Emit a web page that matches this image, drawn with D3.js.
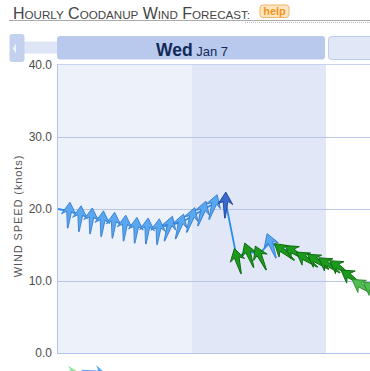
<!DOCTYPE html>
<html><head><meta charset="utf-8">
<script src="https://cdn.jsdelivr.net/npm/d3@7"></script>
<style>
body{margin:0;background:#fff}
svg{display:block}
text{font-family:"Liberation Sans",Arial,Helvetica,sans-serif}
</style>
</head><body><svg id="c" width="370" height="371"></svg>
<script>
// ---- data ----
const hours      = [1,2,3,4,5,6,7,8,9,10,11,12,13,14,15,16,17,18,19,20,21,22,23,24,25,26,27,28];
const speeds     = [19.7,19.2,18.9,18.5,18.3,17.9,17.6,17.5,17.4,17.8,18.1,19.0,19.9,20.8,21.1,13.3,14.1,13.7,15.4,14.4,14.2,13.3,13.0,12.5,12.1,10.8,9.5,9.1];
const directions = [5,5,5,5,5,5,5,5,5,18,18,18,18,18,2,345,340,335,340,310,305,305,305,305,305,305,305,305];
const prevHour = 0, prevSpeed = 20.0;           // last point of the previous page (line only)
const yTicks = [0,10,20,30,40];
const gridTicks = [10,20,30];
const periods = [[0,12],[12,24]];
const titleText = "Hourly Coodanup Wind Forecast:";
const yTitle = "WIND SPEED (knots)";
const dayLabel = "Wed", dateLabel = "Jan 7";
const legendDirs = [90,100];

// ---- setup ----
const svg = d3.select("#c");
const x = d3.scaleLinear().domain([0,24]).range([58,326]);
const y = d3.scaleLinear().domain([0,40]).range([353,65]);
const color = d3.scaleThreshold().domain([10,15,21]).range(["#52bd52","#1c9a1c","#5aa8f0","#3a68cc"]);
const strokeC = d3.scaleThreshold().domain([10,15,21]).range(["#2f8f2f","#0f6a0f","#3a7fd0","#22449a"]);
const arrowPath = "M0,-9 L7.4,3.2 L2.4,0.2 L0.3,17 L-0.3,17 L-2.4,0.2 L-7.4,3.2 Z";

// ---- title ----
const t = svg.append("text").attr("x",13).attr("y",19).attr("fill","#444");
titleText.split(" ").forEach((w,i)=>{
  if(i>0) t.append("tspan").attr("font-size",16).text(" ");
  t.append("tspan").attr("font-size",16).text(w[0].toUpperCase());
  t.append("tspan").attr("font-size",11.6).text(w.slice(1).toUpperCase());
});
svg.append("rect").attr("x",260).attr("y",5).attr("width",29).attr("height",12.5).attr("rx",3)
  .attr("fill","#fde6c2").attr("stroke","#f2b466").attr("stroke-width",1);
svg.append("text").attr("x",274.5).attr("y",15).attr("text-anchor","middle").attr("font-size",11)
  .attr("font-weight","bold").attr("fill","#f39420").text("help");
svg.append("line").attr("x1",9).attr("x2",370).attr("y1",20.5).attr("y2",20.5).attr("stroke","#aaa");
svg.append("line").attr("x1",245).attr("x2",370).attr("y1",22.5).attr("y2",22.5).attr("stroke","#bbb").attr("stroke-dasharray","1,1");

// ---- nav / header ----
svg.append("rect").attr("x",24).attr("y",41.5).attr("width",34).attr("height",12).attr("fill","#dde5f6");
svg.append("rect").attr("x",9.5).attr("y",34).attr("width",15).attr("height",28).attr("rx",3).attr("fill","#c3d1ee");
svg.append("path").attr("d","M12.6,48.5 L16,43.5 L16,53.5 Z").attr("fill","#eef2fb");
svg.append("rect").attr("x",57).attr("y",36).attr("width",268).attr("height",23.5).attr("rx",3).attr("fill","#b9c9ed");
svg.append("rect").attr("x",328.5).attr("y",36.5).attr("width",50).attr("height",23).attr("rx",3)
  .attr("fill","#e0e7f7").attr("stroke","#bccbee");
const h = svg.append("text").attr("x",x(12)).attr("y",56).attr("text-anchor","middle").attr("fill","#12295a");
h.append("tspan").attr("font-size",17.5).attr("font-weight","bold").text(dayLabel);
h.append("tspan").attr("font-size",13).text(" "+dateLabel);

// ---- plot background ----
svg.selectAll("rect.band").data(periods).join("rect").attr("class","band")
  .attr("x",d=>x(d[0])).attr("width",d=>x(d[1])-x(d[0]))
  .attr("y",y(40)).attr("height",y(0)-y(40))
  .attr("fill",(d,i)=>i===0?"#edf1fa":"#e1e7f6");
svg.selectAll("line.grid").data(gridTicks).join("line").attr("class","grid")
  .attr("x1",58).attr("x2",370).attr("y1",d=>y(d)+0.5).attr("y2",d=>y(d)+0.5)
  .attr("stroke","#b7c6e6").attr("stroke-width",1);
svg.append("line").attr("x1",58).attr("x2",370).attr("y1",y(40)-0.5).attr("y2",y(40)-0.5).attr("stroke","#c6d2ef");
svg.append("line").attr("x1",58).attr("x2",370).attr("y1",y(0)+0.5).attr("y2",y(0)+0.5).attr("stroke","#b2c4ea");
svg.append("line").attr("x1",57.5).attr("x2",57.5).attr("y1",y(40)-1).attr("y2",y(0)+1).attr("stroke","#b2c4ea");

// ---- axis labels ----
svg.selectAll("text.tick").data(yTicks).join("text").attr("class","tick")
  .attr("x",52).attr("y",d=>y(d)).attr("dy","0.36em").attr("text-anchor","end")
  .attr("font-size",12).attr("fill","#4d4d4d").text(d=>d3.format(".1f")(d));
svg.append("text").attr("transform","translate(22,216) rotate(-90)").attr("text-anchor","middle")
  .attr("font-size",11).attr("letter-spacing",0.9).attr("fill","#555").text(yTitle);

// ---- series ----
svg.append("clipPath").attr("id","clip").append("rect").attr("x",58).attr("y",30).attr("width",312).attr("height",323);
const g = svg.append("g").attr("clip-path","url(#clip)");
const pts = [{h:prevHour,s:prevSpeed}].concat(hours.map((hh,i)=>({h:hh,s:speeds[i],d:directions[i]})));
g.append("path").datum(pts).attr("fill","none").attr("stroke","#2a8ceb").attr("stroke-width",1.8)
  .attr("d",d3.line().x(d=>x(d.h)).y(d=>y(d.s)));
g.selectAll("path.arrow").data(pts.slice(1)).join("path").attr("class","arrow")
  .attr("d",arrowPath)
  .attr("transform",d=>`translate(${x(d.h)},${y(d.s)}) rotate(${d.d})`)
  .attr("fill",d=>color(d.s)).attr("stroke",d=>strokeC(d.s)).attr("stroke-width",0.9).attr("stroke-linejoin","round");

// ---- legend arrows (cut by page bottom) ----
svg.selectAll("path.leg").data(legendDirs).join("path").attr("class","leg")
  .attr("d",arrowPath)
  .attr("transform",(d,i)=>`translate(${i===0?71:98},373) rotate(${d})`)
  .attr("fill",(d,i)=>i===0?"#8fe3a0":"#5aa5f0");
</script></body></html>
